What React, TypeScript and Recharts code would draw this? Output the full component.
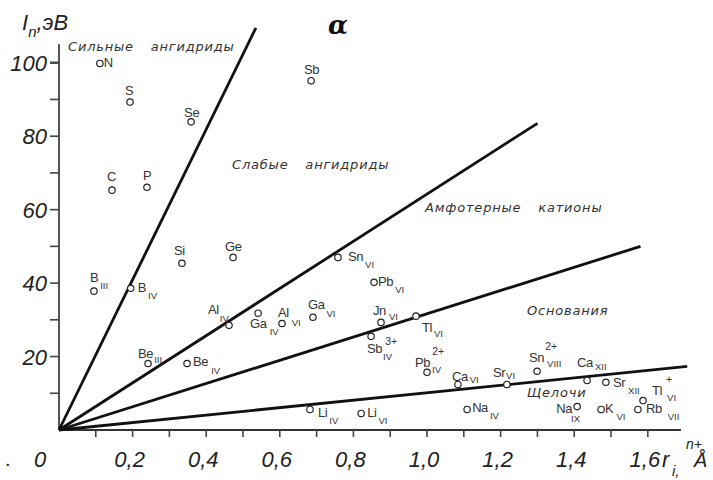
import { ScatterChart, Scatter, XAxis, YAxis, ReferenceLine, Customized } from 'recharts';

// ионы: символ, заряд, координационное число
const ions = ['N', 'S', 'Se', 'C', 'P', 'Si', 'Ge', 'Sb', 'B', 'B', 'Sn', 'Pb', 'Jn', 'Tl', 'Sb', 'Pb', 'Ca', 'Li', 'Li', 'Na', 'Sr', 'Sn', 'Ca', 'Sr', 'Na', 'K', 'Tl', 'Rb', 'Be', 'Be', 'Al', 'Ga', 'Al', 'Ga'];
const charges = ['', '', '', '', '', '', '', '', '', '', '', '', '', '', '3+', '2+', '', '', '', '', '', '2+', '', '', '', '', '+', '', '', '', '', '', '', ''];
const coordination = ['', '', '', '', '', '', '', '', 'III', 'IV', 'VI', 'VI', 'VI', 'VI', 'IV', 'IV', 'VI', 'IV', 'VI', 'IV', 'VI', 'VIII', 'XII', 'XII', 'IX', 'VI', 'VI', 'VII', 'III', 'IV', 'IV', 'IV', 'VI', 'VI'];
// ионный радиус r, Å
const radii = [0.111, 0.193, 0.359, 0.144, 0.239, 0.334, 0.473, 0.685, 0.095, 0.195, 0.758, 0.856, 0.875, 0.97, 0.848, 1.0, 1.084, 0.682, 0.821, 1.109, 1.217, 1.299, 1.435, 1.486, 1.408, 1.473, 1.587, 1.573, 0.242, 0.348, 0.462, 0.541, 0.606, 0.69];
// потенциал ионизации I_n, эВ
const energies = [99.8, 89.3, 83.9, 65.3, 66.1, 45.4, 47.0, 95.1, 37.8, 38.6, 47.0, 40.2, 29.3, 31.0, 25.5, 15.7, 12.4, 5.6, 4.5, 5.6, 12.4, 16.0, 13.5, 13.0, 6.4, 5.6, 8.0, 5.6, 18.1, 18.1, 28.5, 31.8, 29.0, 30.7];

// концы граничных прямых (все выходят из начала координат)
const boundaryR = [0.535, 1.3, 1.58, 1.707];
const boundaryI = [109.5, 83.5, 50.0, 17.3];

const regionNames = ['Сильные ангидриды', 'Слабые ангидриды', 'Амфотерные катионы', 'Основания', 'Щелочи'];

const xTicks = [0, 0.1, 0.2, 0.3, 0.4, 0.5, 0.6, 0.7, 0.8, 0.9, 1.0, 1.1, 1.2, 1.3, 1.4, 1.5, 1.6];
const yTicks = [10, 20, 30, 40, 50, 60, 70, 80, 90, 100];

const W = 713;
const H = 480;
const X_AXIS_H = 50;
const Y_AXIS_W = 59;
const PLOT_BOTTOM = H - X_AXIS_H;

// m — смещение символа от кружка; s — [зазор, опускание] индекса сразу за символом;
// p — [зазор, подъём] заряда за символом; b — индекс отдельно, когда есть заряд
type Placement = { m: [number, number]; s?: [number, number]; p?: [number, number]; b?: [number, number] };
const labelPlacement: Record<string, Placement> = {
  N_: { m: [4, 4] },
  S_: { m: [-5, -7] },
  Se_: { m: [-7, -5] },
  C_: { m: [-5, -9] },
  P_: { m: [-4, -7] },
  Si_: { m: [-8, -8] },
  Ge_: { m: [-8, -6] },
  Sb_: { m: [-7, -7] },
  B_III: { m: [-4, -9], s: [2, 7] },
  B_IV: { m: [7, 4], s: [2, 7] },
  Sn_VI: { m: [10, 4], s: [2, 7] },
  Pb_VI: { m: [4, 4], s: [2, 7] },
  Jn_VI: { m: [-8, -7], s: [3, 5] },
  Tl_VI: { m: [6, 16], s: [2, 5] },
  'Sb3+_IV': { m: [-4, 17], p: [3, 8], b: [12, 24] },
  'Pb2+_IV': { m: [-12, -5], p: [2, 12], b: [5, 1] },
  Ca_VI: { m: [-6, -3], s: [2, 2] },
  Li_IV: { m: [8, 8], s: [2, 7] },
  Li_VI: { m: [6, 4], s: [2, 7] },
  Na_IV: { m: [5, 3], s: [2, 7] },
  Sr_VI: { m: [-14, -7], s: [1, 2] },
  'Sn2+_VIII': { m: [-8, -9], p: [1, 12], b: [10, -4] },
  Ca_XII: { m: [-10, -13], s: [2, 3] },
  Sr_XII: { m: [7, 5], s: [3, 7] },
  Na_IX: { m: [-21, 7], s: [-1, 9] },
  K_VI: { m: [4, 4], s: [3, 7] },
  'Tl+_VI': { m: [9, -6], p: [4, 12], b: [24, 0] },
  Rb_VII: { m: [8, 4], s: [6, 7] },
  Be_III: { m: [-10, -6], s: [1, 5] },
  Be_IV: { m: [6, 2], s: [3, 8] },
  Al_IV: { m: [-21, -11], s: [1, 8] },
  Ga_IV: { m: [-8, 15], s: [3, 7] },
  Al_VI: { m: [-4, -6], s: [3, 9] },
  Ga_VI: { m: [-5, -8], s: [2, 8] },
};

const regionPlacement: [number, number][] = [
  [68, 51],
  [232, 169],
  [425, 212],
  [527, 315],
  [527, 397],
];

const points = ions.map((ion, i) => ({
  x: radii[i],
  y: energies[i],
  ion,
  charge: charges[i],
  cn: coordination[i],
}));

const boundaries = boundaryR.map((r, i) => [
  { x: 0, y: 0 },
  { x: r, y: boundaryI[i] },
]);

const LABEL_FONT = "'Liberation Sans', Arial, sans-serif";
const HAND_FONT = "'DejaVu Sans', sans-serif";
const DIGIT_FONT = "'Liberation Sans', Arial, sans-serif";

const IonMark = (props: any) => {
  const { cx, cy, payload } = props;
  if (cx == null || cy == null) return <g />;
  const key = `${payload.ion}${payload.charge}_${payload.cn}`;
  const pl = labelPlacement[key] ?? { m: [4, 4] };
  return (
    <g fontFamily={LABEL_FONT} fill="#333">
      <circle cx={cx} cy={cy} r={3.2} fill="#fff" stroke="#222" strokeWidth={1.2} />
      <text x={cx + pl.m[0]} y={cy + pl.m[1]} fontSize={13} letterSpacing={-0.4}>
        {payload.ion}
        {payload.cn && pl.s && (
          <tspan dx={pl.s[0]} dy={pl.s[1]} fontSize={9.5} letterSpacing={0}>
            {payload.cn}
          </tspan>
        )}
        {payload.charge && pl.p && (
          <tspan dx={pl.p[0]} dy={-pl.p[1]} fontSize={10.5} letterSpacing={0}>
            {payload.charge}
          </tspan>
        )}
      </text>
      {payload.cn && pl.b && (
        <text x={cx + pl.b[0]} y={cy + pl.b[1]} fontSize={9.5}>
          {payload.cn}
        </text>
      )}
    </g>
  );
};

const XTick = (props: any) => {
  const { x, payload } = props;
  const v: number = payload.value;
  const major = Math.round(v * 10) % 2 === 0;
  return (
    <g>
      {v > 0 && <line x1={x} y1={PLOT_BOTTOM} x2={x} y2={PLOT_BOTTOM + 7} stroke="#444" strokeWidth={1.6} />}
      {major && (
        <text
          x={v === 0 ? x - 19 : x - 3}
          y={PLOT_BOTTOM + 37}
          textAnchor="middle"
          fontFamily={DIGIT_FONT}
          fontStyle="italic"
          fontSize={22}
          fill="#222"
        >
          {v === 0 ? '0' : v.toFixed(1).replace('.', ',')}
        </text>
      )}
    </g>
  );
};

const YTick = (props: any) => {
  const { y, payload } = props;
  const v: number = payload.value;
  return (
    <g>
      <line x1={Y_AXIS_W - 9} y1={y} x2={Y_AXIS_W} y2={y} stroke="#444" strokeWidth={v === 100 ? 2.4 : 1.6} />
      {v % 20 === 0 && (
        <text
          x={Y_AXIS_W - 12}
          y={y + 8}
          textAnchor="end"
          fontFamily={DIGIT_FONT}
          fontStyle="italic"
          fontSize={22}
          fill="#222"
        >
          {v}
        </text>
      )}
    </g>
  );
};

const Annotations = () => (
  <g fill="#333">
    {regionNames.map((name, i) => (
      <text
        key={name}
        x={regionPlacement[i][0]}
        y={regionPlacement[i][1]}
        fontFamily={HAND_FONT}
        fontStyle="italic"
        fontSize={13}
        style={{ wordSpacing: 12, letterSpacing: 0.8 }}
      >
        {name}
      </text>
    ))}
    <text x={22} y={30} fontFamily={DIGIT_FONT} fontStyle="italic" fontSize={22} fill="#222">
      I
      <tspan fontSize={15} dy={7}>
        n
      </tspan>
      <tspan dy={-7}>,эВ</tspan>
    </text>
    <text
      x={338}
      y={34}
      textAnchor="middle"
      fontFamily="'DejaVu Serif', serif"
      fontStyle="italic"
      fontWeight="bold"
      fontSize={26}
      fill="#111"
    >
      α
    </text>
    <text x={5} y={466} fontFamily={DIGIT_FONT} fontSize={20} fill="#222">
      .
    </text>
    <g fontFamily={DIGIT_FONT} fontStyle="italic" fill="#222">
      <text x={662} y={467} fontSize={22}>r</text>
      <text x={672} y={476} fontSize={15}>i,</text>
      <text x={686} y={449} fontSize={14}>n+</text>
      <text x={694} y={467} fontSize={20}>Å</text>
    </g>
  </g>
);

export default function App() {
  return (
    <div style={{ position: 'absolute', left: 0, top: 0, width: W, height: H, background: '#fff' }}>
      <ScatterChart width={W} height={H} margin={{ top: 26, right: 21, bottom: 0, left: 0 }}>
        <XAxis
          type="number"
          dataKey="x"
          domain={[0, 1.72]}
          ticks={xTicks}
          interval={0}
          height={X_AXIS_H}
          axisLine={false}
          tickLine={false}
          tick={<XTick />}
        />
        <YAxis
          type="number"
          dataKey="y"
          domain={[0, 110]}
          ticks={yTicks}
          interval={0}
          width={Y_AXIS_W}
          axisLine={false}
          tickLine={false}
          tick={<YTick />}
        />
        <ReferenceLine segment={[{ x: 0, y: 0 }, { x: 0, y: 105 }]} stroke="#555" strokeWidth={2} />
        <ReferenceLine segment={[{ x: 0, y: 0 }, { x: 1.69, y: 0 }]} stroke="#333" strokeWidth={2} />
        {boundaries.map((seg, i) => (
          <Scatter
            key={i}
            data={seg}
            line={{ stroke: '#111', strokeWidth: 2.8 }}
            shape={() => <g />}
            legendType="none"
            isAnimationActive={false}
          />
        ))}
        <Scatter data={points} shape={<IonMark />} isAnimationActive={false} />
        <Customized component={Annotations} />
      </ScatterChart>
    </div>
  );
}
